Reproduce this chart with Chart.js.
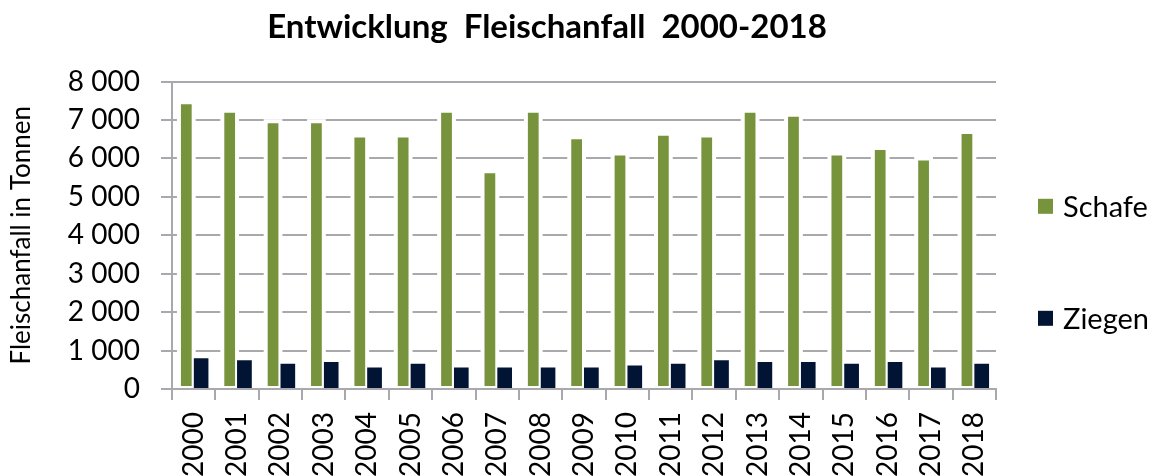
<!DOCTYPE html>
<html>
<head>
<meta charset="utf-8">
<script src="https://cdn.jsdelivr.net/npm/chart.js@4.4.1/dist/chart.umd.min.js"></script>
<style>
  html, body { margin: 0; padding: 0; background: #ffffff; }
  #wrap { width: 1159px; height: 476px; position: relative; }
</style>
</head>
<body>
<div id="wrap"><canvas id="c" width="1159" height="476"></canvas></div>
<script>
const categories = ['2000','2001','2002','2003','2004','2005','2006','2007','2008','2009','2010','2011','2012','2013','2014','2015','2016','2017','2018'];
const schafe = [7460, 7240, 6970, 6970, 6600, 6600, 7240, 5670, 7240, 6550, 6130, 6640, 6600, 7240, 7140, 6130, 6270, 6000, 6690];
const ziegen = [800, 750, 660, 700, 560, 660, 560, 560, 560, 560, 610, 660, 750, 700, 700, 660, 700, 560, 660];
const yTickLabels = ['0', '1 000', '2 000', '3 000', '4 000', '5 000', '6 000', '7 000', '8 000'];
const seriesNames = ['Schafe', 'Ziegen'];
const seriesColors = ['#77933c', '#021434'];
const titleText = 'Entwicklung  Fleischanfall  2000-2018';
const yTitle = 'Fleischanfall in Tonnen';

const GRID = '#a9a9ad';
const FONT = 'Lato';

// white halo behind the green bars (covers gridlines like the original)
const haloPlugin = {
  id: 'halo',
  beforeDatasetsDraw(chart) {
    const meta = chart.getDatasetMeta(0);
    const ctx = chart.ctx;
    const ca = chart.chartArea;
    ctx.save();
    ctx.beginPath();
    ctx.rect(ca.left, ca.top - 5, ca.right - ca.left, ca.bottom - ca.top + 5);
    ctx.clip();
    ctx.fillStyle = '#ffffff';
    const h = 2;
    meta.data.forEach(el => {
      const p = el.getProps(['x', 'y', 'base', 'width'], true);
      ctx.fillRect(p.x - p.width / 2 - h, p.y - h, p.width + 2 * h, p.base - p.y + h - 1);
    });
    ctx.restore();
  }
};

// shift the title block so it is centred like in the original
const titleShift = {
  id: 'titleShift',
  afterLayout(chart) {
    const t = chart.titleBlock;
    if (t) {
      t.left = 98;
      t.right = chart.chartArea.right;
    }
  }
};

// legend at the right side, drawn from the dataset labels/colours
const sideLegend = {
  id: 'sideLegend',
  afterDraw(chart) {
    const ctx = chart.ctx;
    const ca = chart.chartArea;
    const x0 = ca.right + 42;
    const mid = (ca.top + ca.bottom) / 2 + 27;
    const gap = 112;
    ctx.save();
    ctx.font = '29px ' + FONT;
    ctx.textBaseline = 'middle';
    ctx.textAlign = 'left';
    chart.data.datasets.forEach((ds, i) => {
      const cy = mid + (i - 0.5) * gap;
      ctx.fillStyle = ds.legendColor;
      ctx.fillRect(x0, cy - 7.5, 15, 15);
      ctx.fillStyle = '#000000';
      ctx.fillText(ds.label, x0 + 25, cy + 1);
    });
    ctx.restore();
  }
};

new Chart(document.getElementById('c'), {
  type: 'bar',
  data: {
    labels: categories,
    datasets: [
      {
        label: seriesNames[0],
        data: schafe,
        backgroundColor: seriesColors[0],
        legendColor: seriesColors[0],
        borderColor: '#ffffff',
        borderWidth: 2,
        borderSkipped: false,
        categoryPercentage: 0.68,
        barPercentage: 1.0
      },
      {
        label: seriesNames[1],
        data: ziegen,
        backgroundColor: seriesColors[1],
        legendColor: seriesColors[1],
        borderWidth: 0,
        categoryPercentage: 0.68,
        barPercentage: 1.0
      }
    ]
  },
  options: {
    responsive: false,
    animation: false,
    devicePixelRatio: 1,
    layout: { padding: { left: 0, right: 163, top: 0, bottom: 0 } },
    plugins: {
      legend: { display: false },
      tooltip: { enabled: false },
      title: {
        display: true,
        text: titleText,
        color: '#000000',
        font: { family: FONT, size: 33, weight: 'bold' },
        padding: { top: 8, bottom: 34 }
      }
    },
    scales: {
      x: {
        offset: true,
        grid: {
          display: true,
          drawOnChartArea: false,
          drawTicks: true,
          tickLength: 11,
          color: GRID,
          lineWidth: 2,
          offset: true
        },
        border: { display: true, color: GRID, width: 2 },
        ticks: {
          color: '#000000',
          font: { family: FONT, size: 28 },
          minRotation: 90,
          maxRotation: 90,
          padding: 12,
          autoSkip: false
        },
        afterFit(scale) { scale.height = 87; }
      },
      y: {
        min: 0,
        max: 8000,
        grid: {
          color: GRID,
          lineWidth: 2,
          drawTicks: true,
          tickLength: 11
        },
        border: { display: true, color: GRID, width: 2 },
        ticks: {
          stepSize: 1000,
          color: '#000000',
          font: { family: FONT, size: 28 },
          padding: 21,
          callback: (v, i) => yTickLabels[i]
        },
        title: {
          display: true,
          text: yTitle,
          color: '#000000',
          font: { family: FONT, size: 26 },
          padding: { top: 6, bottom: 0 }
        },
        afterFit(scale) { scale.width = 172; }
      }
    }
  },
  plugins: [haloPlugin, titleShift, sideLegend]
});
</script>
</body>
</html>
